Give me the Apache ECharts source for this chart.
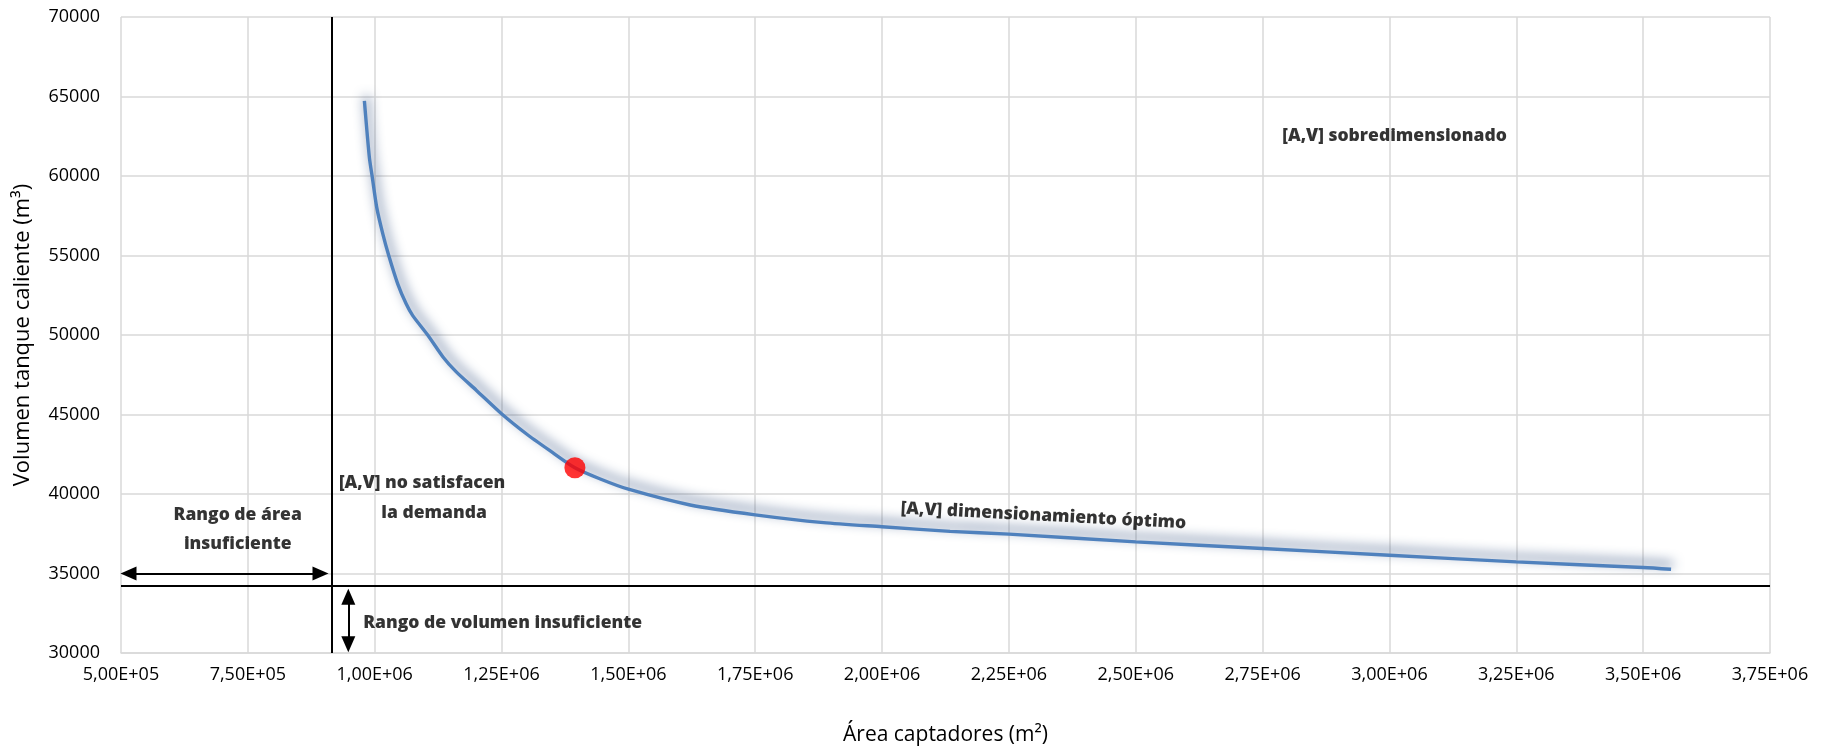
<!DOCTYPE html>
<html>
<head>
<meta charset="utf-8">
<script src="https://cdn.jsdelivr.net/npm/echarts@6/dist/echarts.min.js"></script>
<style>
  html, body { margin: 0; padding: 0; background: #ffffff; }
  #chart { width: 1831px; height: 752px; }
</style>
</head>
<body>
<div id="chart"></div>
<script>
// Sizing curve: collector area (m²) against hot-tank volume (m³)
const area = [979700, 989500, 994900, 1004000, 1016000, 1027700, 1045400, 1062000, 1075000,
  1104500, 1134600, 1160800, 1200100, 1250000, 1298700, 1344700, 1394600, 1443400, 1500000,
  1621800, 1750000, 1884700, 2000000, 2134000, 2250000, 2500000, 2750000, 3000000, 3250000,
  3500000, 3555000];
const volume = [64730, 61170, 60000, 58030, 56360, 55000, 53220, 51960, 51220,
  50000, 48620, 47680, 46530, 45050, 43790, 42740, 41650, 40960, 40300,
  39310, 38690, 38200, 37940, 37650, 37475, 36990, 36574, 36152, 35731,
  35378, 35265];

// Selected design point
const optimumArea = 1394600;
const optimumVolume = 41650;

// Minimum area / minimum volume limits
const minArea = 916000;
const minVolume = 34200;

// Axis ticks
const xTickValues = [500000, 750000, 1000000, 1250000, 1500000, 1750000, 2000000, 2250000,
  2500000, 2750000, 3000000, 3250000, 3500000, 3750000];
const xTickLabels = ['5,00E+05', '7,50E+05', '1,00E+06', '1,25E+06', '1,50E+06', '1,75E+06',
  '2,00E+06', '2,25E+06', '2,50E+06', '2,75E+06', '3,00E+06', '3,25E+06', '3,50E+06', '3,75E+06'];
const yTickValues = [30000, 35000, 40000, 45000, 50000, 55000, 60000, 65000, 70000];
const yTickLabels = ['30000', '35000', '40000', '45000', '50000', '55000', '60000', '65000', '70000'];

// Region annotations and their anchors in data units
const noteTexts = ['[A,V] sobredimensionado', '[A,V] no satisfacen', 'la demanda',
  'Rango de área\ninsuficiente', 'Rango de volumen insuficiente', '[A,V] dimensionamiento óptimo'];
const noteArea = [3010000, 1093500, 1117000, 730000, 1252200, 2318000];
const noteVolume = [62500, 40700, 38810, 37772, 31888, 38622];
const noteRotate = [0, 0, 0, 0, 0, -3];

// Double-headed arrows (shaft ends, data units)
const areaArrow = [[514800, 35000], [893200, 35000]];
const volumeArrow = [[948000, 33540], [948000, 30550]];

const FONT = '"Open Sans", "Noto Sans", sans-serif';
const xMin = xTickValues[0], xMax = xTickValues[xTickValues.length - 1];
const xStep = xTickValues[1] - xTickValues[0];
const yMin = yTickValues[0], yMax = yTickValues[yTickValues.length - 1];
const yStep = yTickValues[1] - yTickValues[0];

const chart = echarts.init(document.getElementById('chart'), null, { renderer: 'canvas' });

const arrowEnd = { symbol: 'triangle', symbolSize: [14, 16] };

chart.setOption({
  animation: false,
  backgroundColor: '#ffffff',
  textStyle: { fontFamily: FONT },
  grid: { left: 121, right: 61, top: 17, bottom: 99, containLabel: false },
  xAxis: {
    type: 'value',
    min: xMin, max: xMax, interval: xStep,
    name: 'Área captadores (m²)',
    nameLocation: 'middle',
    nameGap: 72,
    nameTextStyle: { fontFamily: FONT, fontSize: 21, color: '#000000' },
    axisLine: { show: true, lineStyle: { color: '#d9d9d9', width: 1.5 } },
    axisTick: { show: false },
    axisLabel: {
      fontFamily: FONT, fontSize: 18, color: '#000000', margin: 13,
      formatter: v => xTickLabels[Math.round((v - xMin) / xStep)]
    },
    splitLine: { show: true, lineStyle: { color: '#d9d9d9', width: 1.5 } }
  },
  yAxis: {
    type: 'value',
    min: yMin, max: yMax, interval: yStep,
    name: 'Volumen tanque caliente (m³)',
    nameLocation: 'middle',
    nameRotate: 90,
    nameGap: 87,
    nameTextStyle: { fontFamily: FONT, fontSize: 22, color: '#000000' },
    axisLine: { show: false },
    axisTick: { show: false },
    axisLabel: {
      fontFamily: FONT, fontSize: 18, color: '#000000', margin: 21,
      formatter: v => yTickLabels[Math.round((v - yMin) / yStep)]
    },
    splitLine: { show: true, lineStyle: { color: '#d9d9d9', width: 1.5 } }
  },
  series: [
    {
      name: 'curva',
      type: 'line',
      data: area.map((a, i) => [a, volume[i]]),
      showSymbol: false,
      smooth: 0.25,
      z: 4,
      lineStyle: {
        color: '#4f81bd', width: 3.4,
        shadowColor: 'rgba(50, 78, 125, 1)', shadowBlur: 12,
        shadowOffsetX: 2, shadowOffsetY: -5
      }
    },
    {
      name: 'limites',
      type: 'scatter',
      data: noteTexts.map((t, i) => ({
        name: t,
        value: [noteArea[i], noteVolume[i]],
        label: { rotate: noteRotate[i] }
      })),
      symbolSize: 1,
      itemStyle: { color: 'rgba(0,0,0,0)' },
      silent: true,
      z: 6,
      label: {
        show: true,
        position: 'inside',
        formatter: p => p.name,
        fontFamily: FONT,
        fontWeight: 800,
        fontSize: 17.5,
        lineHeight: 29,
        align: 'center',
        verticalAlign: 'middle',
        color: '#000000',
        textBorderWidth: 0
      },
      markLine: {
        silent: true,
        animation: false,
        symbol: 'none',
        label: { show: false },
        lineStyle: { color: '#000000', width: 2, type: 'solid' },
        data: [
          [{ coord: [minArea, yMin] }, { coord: [minArea, yMax] }],
          [{ coord: [xMin, minVolume] }, { coord: [xMax, minVolume] }],
          [Object.assign({ coord: areaArrow[0] }, arrowEnd), Object.assign({ coord: areaArrow[1] }, arrowEnd)],
          [Object.assign({ coord: volumeArrow[0] }, arrowEnd), Object.assign({ coord: volumeArrow[1] }, arrowEnd)]
        ]
      }
    },
    {
      name: 'punto óptimo',
      type: 'scatter',
      data: [[optimumArea, optimumVolume]],
      symbolSize: 21,
      itemStyle: { color: '#ff0000' },
      z: 8
    }
  ]
});
</script>
</body>
</html>
